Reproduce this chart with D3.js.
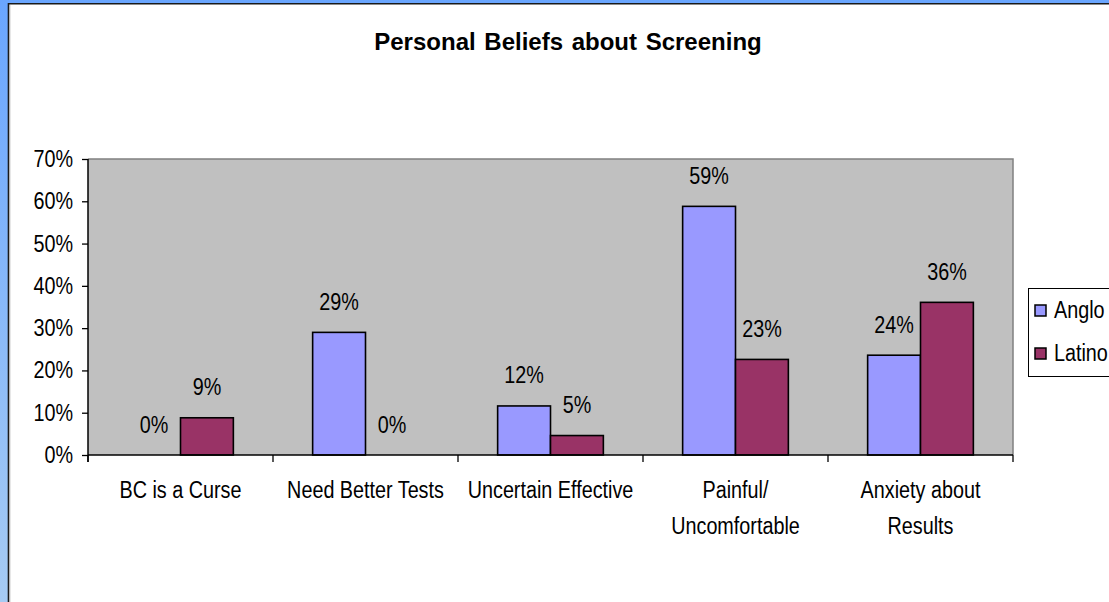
<!DOCTYPE html>
<html>
<head>
<meta charset="utf-8">
<script src="https://cdn.jsdelivr.net/npm/d3@7"></script>
<style>
  body { margin: 0; overflow: hidden; }
  svg { display: block; font-family: Arial, "Liberation Sans", sans-serif; }
</style>
</head>
<body>
<svg id="chart" width="1109" height="602"></svg>
<script>
// values
const categories = ['BC is a Curse', 'Need Better Tests', 'Uncertain Effective', 'Painful/|Uncomfortable', 'Anxiety about|Results'];
const series = ['Anglo', 'Latino'];
const anglo = [0, 0.29, 0.116, 0.588, 0.236];
const latino = [0.088, 0, 0.046, 0.226, 0.361];
const yTicks = [0, 0.1, 0.2, 0.3, 0.4, 0.5, 0.6, 0.7];
const colors = ['#9999FF', '#993366'];
const title = 'Personal Beliefs about Screening';

const W = 1109;
const H = 602;
const plot = { left: 88, right: 1013, top: 159, bottom: 455 };
const FS = 23;
const SX = 0.86; // the old chart text is horizontally squeezed

const pct = d3.format('.0%');

const $svg = d3.select('#chart');

// blue frame
const grad = $svg.append('defs').append('linearGradient')
  .attr('id', 'frame').attr('x1', 0).attr('x2', 0).attr('y1', 0).attr('y2', 1);
grad.append('stop').attr('offset', '0%').attr('stop-color', '#6aa6ff');
grad.append('stop').attr('offset', '100%').attr('stop-color', '#a6cbf3');
$svg.append('rect').attr('width', W).attr('height', H).attr('fill', 'url(#frame)');
$svg.append('rect').attr('x', 8).attr('y', 3).attr('width', W - 8).attr('height', H - 3).attr('fill', '#fff');
$svg.append('path').attr('d', `M8.5,${H}V3.8H${W}`).attr('fill', 'none').attr('stroke', '#1a1a1a').attr('stroke-width', 1.6);
$svg.append('path').attr('d', `M9.8,${H}V5`).attr('stroke', '#b0b0b0').attr('stroke-width', 1);

function squeezed(g, x, y, str, anchor) {
  g.append('g')
    .attr('transform', `translate(${x},${y})`)
    .append('text')
    .attr('transform', `scale(${SX},1)`)
    .attr('text-anchor', anchor)
    .attr('font-size', FS)
    .attr('fill', '#000')
    .text(str);
}

// scales
const x = d3.scaleBand().domain(categories).range([plot.left, plot.right]);
const xs = d3.scaleBand().domain(series).range([0, x.bandwidth()]).paddingOuter(0.75);
const y = d3.scaleLinear().domain([0, 0.7]).range([plot.bottom, plot.top]);

// plot area
$svg.append('rect')
  .attr('x', plot.left).attr('y', plot.top)
  .attr('width', plot.right - plot.left).attr('height', plot.bottom - plot.top)
  .attr('fill', '#c0c0c0');
$svg.append('path')
  .attr('d', `M${plot.left},${plot.top}H${plot.right}V${plot.bottom}`)
  .attr('fill', 'none').attr('stroke', '#808080').attr('stroke-width', 1.5);

// bars
const rows = categories.map((c, i) => ({ cat: c, values: [anglo[i], latino[i]] }));
const $grp = $svg.append('g').selectAll('g').data(rows).join('g')
  .attr('transform', d => `translate(${x(d.cat)},0)`);

$grp.selectAll('rect')
  .data(d => d.values.map((v, j) => ({ v, s: series[j] })).filter(d => d.v > 0))
  .join('rect')
  .attr('x', d => xs(d.s))
  .attr('y', d => y(d.v))
  .attr('width', xs.bandwidth())
  .attr('height', d => y(0) - y(d.v))
  .attr('fill', d => colors[series.indexOf(d.s)])
  .attr('stroke', '#000')
  .attr('stroke-width', 1.6);

// value labels
const $labels = $svg.append('g');
rows.forEach(r => {
  r.values.forEach((v, j) => {
    squeezed($labels, x(r.cat) + xs(series[j]) + xs.bandwidth() / 2, y(v) - 22.5, pct(v), 'middle');
  });
});

// y axis
const yAxis = $svg.append('g')
  .attr('transform', `translate(${plot.left},0)`)
  .call(d3.axisLeft(y).tickValues(yTicks).tickSize(6).tickFormat(''));
yAxis.select('.domain').attr('stroke', '#000').attr('stroke-width', 1.5).attr('d', `M0,${plot.top}V${plot.bottom + 7}`);
yAxis.selectAll('.tick line').attr('stroke', '#000').attr('stroke-width', 1.3);
const $yl = $svg.append('g');
yTicks.forEach(t => squeezed($yl, 73, y(t) + 8, pct(t), 'end'));

// x axis
const bounds = categories.map(c => x(c)).concat([plot.right]);
const $xa = $svg.append('g');
$xa.append('line')
  .attr('x1', plot.left).attr('x2', plot.right)
  .attr('y1', plot.bottom).attr('y2', plot.bottom)
  .attr('stroke', '#000').attr('stroke-width', 1.5);
$xa.selectAll('line.tick').data(bounds).join('line')
  .attr('class', 'tick')
  .attr('x1', d => d).attr('x2', d => d)
  .attr('y1', plot.bottom).attr('y2', plot.bottom + 7)
  .attr('stroke', '#000').attr('stroke-width', 1.3);
categories.forEach(c => {
  c.split('|').forEach((line, k) => {
    squeezed($xa, x(c) + x.bandwidth() / 2, 498 + k * 36, line, 'middle');
  });
});

// title
$svg.append('text')
  .attr('x', 568).attr('y', 50)
  .attr('text-anchor', 'middle')
  .attr('font-size', 24).attr('font-weight', 'bold')
  .attr('word-spacing', 2)
  .text(title);

// legend (runs past the right edge, as in the original)
const $leg = $svg.append('g');
$leg.append('rect')
  .attr('x', 1028.5).attr('y', 288.5).attr('width', 100).attr('height', 88)
  .attr('fill', '#fff').attr('stroke', '#000').attr('stroke-width', 1);
series.forEach((s, i) => {
  const yy = 305 + i * 43;
  $leg.append('rect')
    .attr('x', 1035).attr('y', yy).attr('width', 11).attr('height', 11)
    .attr('fill', colors[i]).attr('stroke', '#000').attr('stroke-width', 1.5);
  squeezed($leg, 1054, yy + 13, s, 'start');
});
</script>
</body>
</html>
